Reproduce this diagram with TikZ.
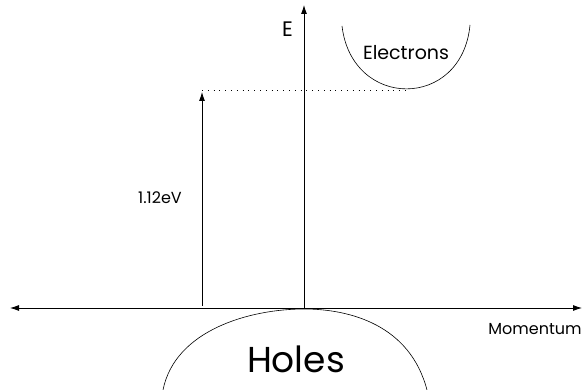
\documentclass[tikz,border=0pt]{standalone}
\usepackage{fontspec}
\setmainfont{Poppins}
\usepackage{tikz}
\usetikzlibrary{
    arrows.meta
}

\tikzset{
    lbl/.style={inner sep=0pt,anchor=base},
    tip/.style={-{Latex[length=9pt,width=6pt]}}
}

\begin{document}
\begin{tikzpicture}[x=1pt,y=-1pt,line width=0.8pt]

\useasboundingbox (0,0) rectangle (587,390);

\coordinate (L) at (10,308);
\coordinate (R) at (582,308);
\coordinate (O) at (304,308);
\coordinate (T) at (304,5);
\coordinate (G0) at (202,306);
\coordinate (G1) at (202,92);
\coordinate (D0) at (202,90);
\coordinate (D1) at (408,90);

\draw[{Latex[length=9pt,width=6pt]}-{Latex[length=9pt,width=6pt]}] (L)--(R);
\draw[tip] (O)--(T);
\draw[tip] (G0)--(G1);
\draw[line width=0.6pt,dash pattern=on 1pt off 4.8pt] (D0)--(D1);

% electrons band
\draw[line width=0.6pt] (342,26) .. controls (352,110) and (462,110) .. (470,25);
% holes band
\draw[line width=0.6pt] (163,390) .. controls (175,330) and (250,309) .. (304,309)
    .. controls (350,309) and (410,325) .. (427,390);

\node[lbl,font=\fontsize{21}{21}\selectfont] (E) at (287.5,37) {E};
\node[lbl,font=\fontsize{19}{19}\selectfont] (el) at (406,60) {Electrons};
\node[lbl,font=\fontsize{16}{16}\selectfont] (gap) at (160,204) {1.12eV};
\node[lbl,font=\fontsize{16}{16}\selectfont] (mom) at (535,335) {Momentum};
\node[lbl,font=\fontsize{36}{36}\selectfont] (h) at (296,373) {Holes};

\end{tikzpicture}
\end{document}
